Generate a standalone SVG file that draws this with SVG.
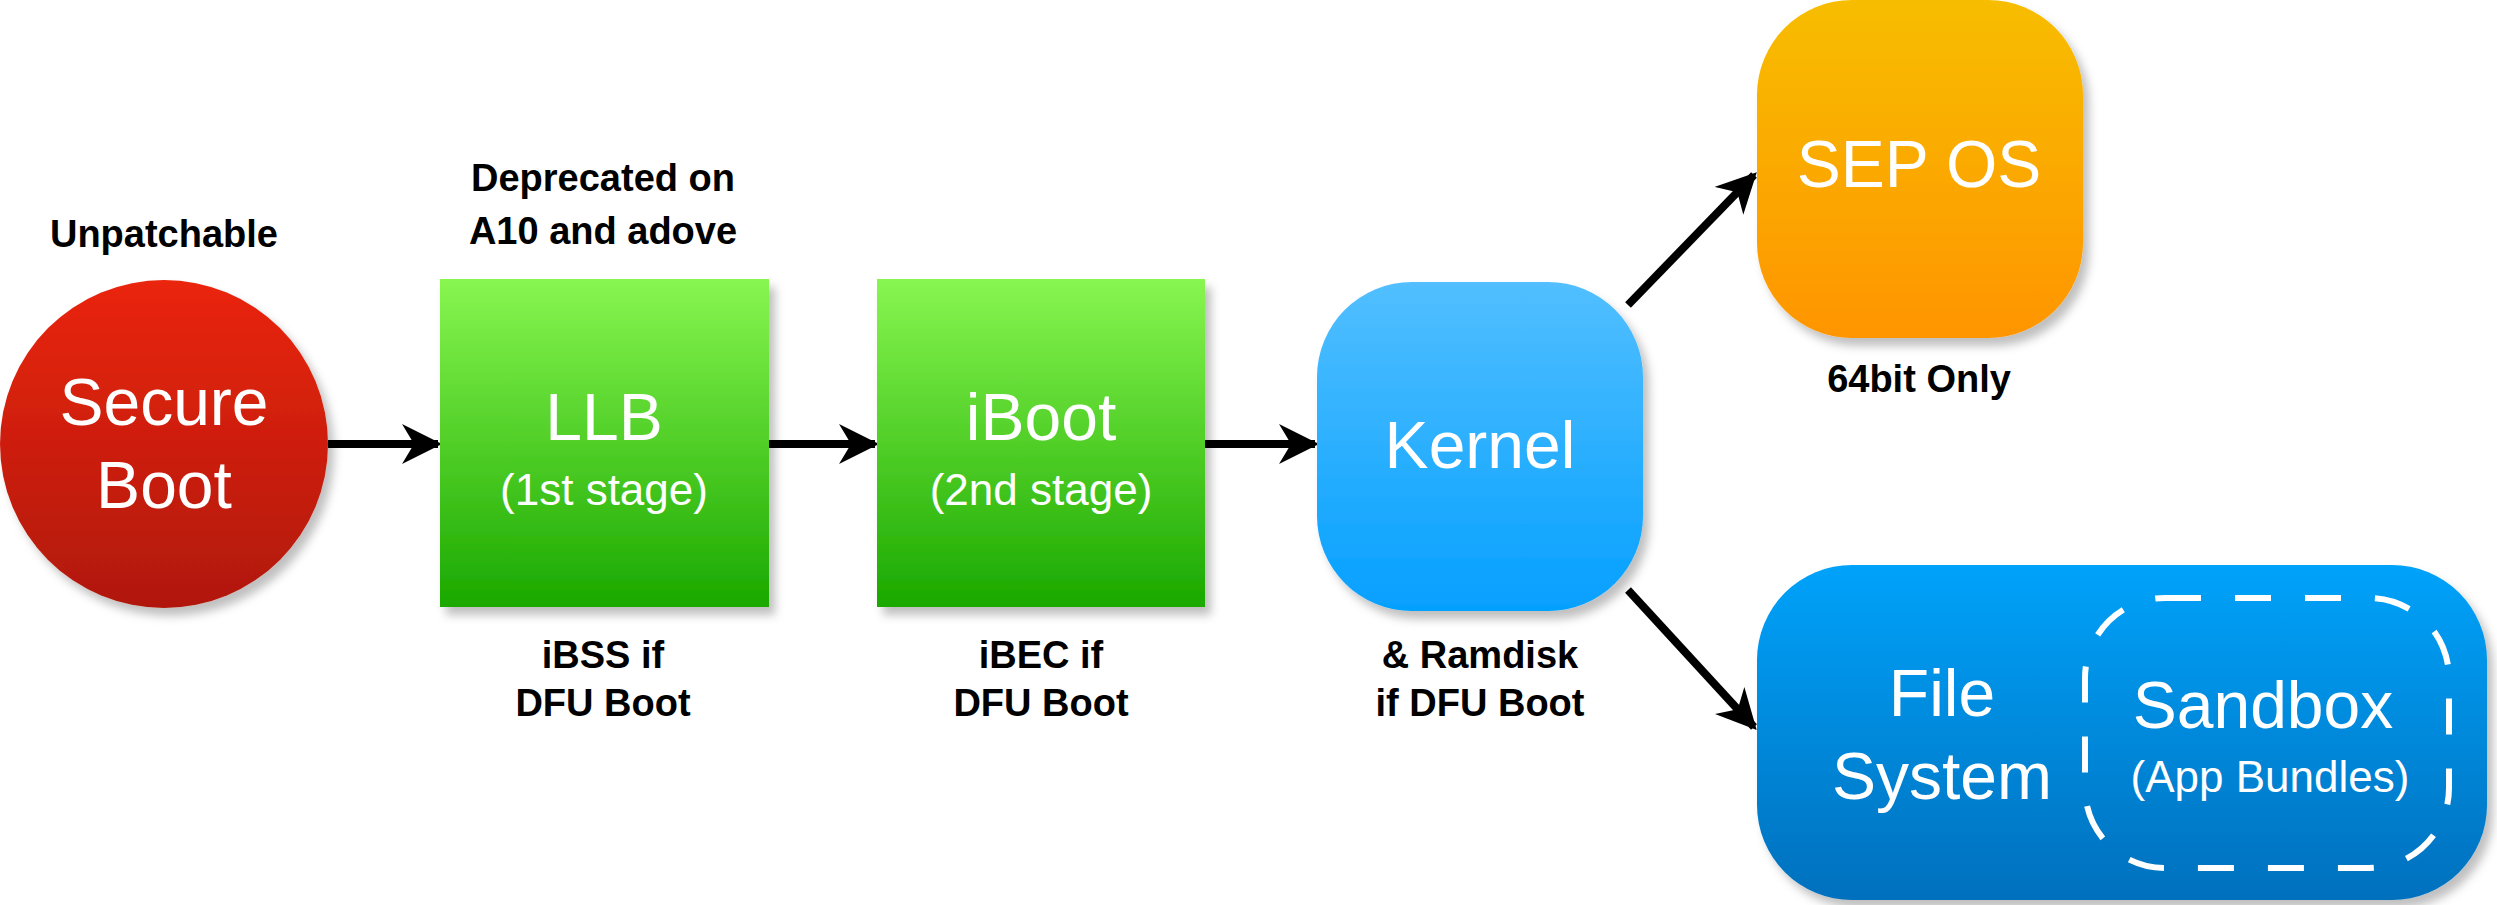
<svg xmlns="http://www.w3.org/2000/svg" width="2497" height="905" viewBox="0 0 2497 905">
<defs>
<linearGradient id="gr" x1="0" y1="0" x2="0" y2="1"><stop offset="0" stop-color="#ea2510"/><stop offset="1" stop-color="#b01807"/></linearGradient>
<linearGradient id="gg" x1="0" y1="0" x2="0" y2="1"><stop offset="0" stop-color="#88f650"/><stop offset="1" stop-color="#1aa800"/></linearGradient>
<linearGradient id="gb" x1="0" y1="0" x2="0" y2="1"><stop offset="0" stop-color="#52bfff"/><stop offset="1" stop-color="#05a0ff"/></linearGradient>
<linearGradient id="go" x1="0" y1="0" x2="0" y2="1"><stop offset="0" stop-color="#f7bd00"/><stop offset="1" stop-color="#ff9500"/></linearGradient>
<linearGradient id="gf" x1="0" y1="0" x2="0" y2="1"><stop offset="0" stop-color="#03a2fa"/><stop offset="1" stop-color="#0270bd"/></linearGradient>
<filter id="sh" x="-10%" y="-10%" width="130%" height="130%"><feDropShadow dx="6" dy="8" stdDeviation="5" flood-color="#000" flood-opacity="0.25"/></filter>
<marker id="ah" viewBox="0 0 10 10" refX="9" refY="5" markerWidth="5" markerHeight="5" orient="auto" markerUnits="strokeWidth"><path d="M0,0 L10,5 L0,10 L3,5 Z" fill="#000"/></marker>
</defs>
<style>
.n{font-family:"Liberation Sans",Arial,sans-serif;fill:#fff;text-anchor:middle}
.l{font-family:"Liberation Sans",Arial,sans-serif;fill:#000;font-weight:bold;font-size:38px;text-anchor:middle}
.c{stroke:#000;stroke-width:8;fill:none;marker-end:url(#ah)}
</style>
<g id="connectors">
<line class="c" x1="328" y1="444" x2="438" y2="444"/>
<line class="c" x1="769" y1="444" x2="875" y2="444"/>
<line class="c" x1="1205" y1="444" x2="1315" y2="444"/>
<line class="c" x1="1628" y1="305" x2="1754" y2="175"/>
<line class="c" x1="1628" y1="590" x2="1754" y2="727"/>
</g>
<g id="secure-boot"><circle cx="164" cy="444" r="164" fill="url(#gr)" filter="url(#sh)"/>
<text class="n" x="164" y="425" font-size="66">Secure</text><text class="n" x="164" y="508" font-size="66">Boot</text></g>
<g id="llb"><rect x="440" y="279" width="329" height="328" fill="url(#gg)" filter="url(#sh)"/>
<text class="n" x="604" y="440" font-size="66">LLB</text><text class="n" x="604" y="505" font-size="44">(1st stage)</text></g>
<g id="iboot"><rect x="877" y="279" width="328" height="328" fill="url(#gg)" filter="url(#sh)"/>
<text class="n" x="1041" y="440" font-size="66">iBoot</text><text class="n" x="1041" y="505" font-size="44">(2nd stage)</text></g>
<g id="kernel"><rect x="1317" y="282" width="326" height="329" rx="95" fill="url(#gb)" filter="url(#sh)"/>
<text class="n" x="1480" y="468" font-size="66">Kernel</text></g>
<g id="sep-os"><rect x="1757" y="0" width="326" height="338" rx="95" fill="url(#go)" filter="url(#sh)"/>
<text class="n" x="1919" y="187" font-size="66">SEP OS</text></g>
<g id="file-system"><rect x="1757" y="565" width="730" height="335" rx="95" fill="url(#gf)" filter="url(#sh)"/>
<text class="n" x="1942" y="716" font-size="66">File</text><text class="n" x="1942" y="799" font-size="66">System</text>
<rect x="2085" y="598" width="364" height="270" rx="80" fill="none" stroke="#fff" stroke-width="6" stroke-dasharray="36 34"/>
<text class="n" x="2263" y="728" font-size="66">Sandbox</text><text class="n" x="2270" y="792" font-size="44">(App Bundles)</text></g>
<g id="labels">
<text class="l" x="164" y="247">Unpatchable</text>
<text class="l" x="603" y="191">Deprecated on</text>
<text class="l" x="603" y="244">A10 and adove</text>
<text class="l" x="603" y="668">iBSS if</text>
<text class="l" x="603" y="716">DFU Boot</text>
<text class="l" x="1041" y="668">iBEC if</text>
<text class="l" x="1041" y="716">DFU Boot</text>
<text class="l" x="1480" y="668">&amp; Ramdisk</text>
<text class="l" x="1480" y="716">if DFU Boot</text>
<text class="l" x="1919" y="392">64bit Only</text>
</g>
</svg>
